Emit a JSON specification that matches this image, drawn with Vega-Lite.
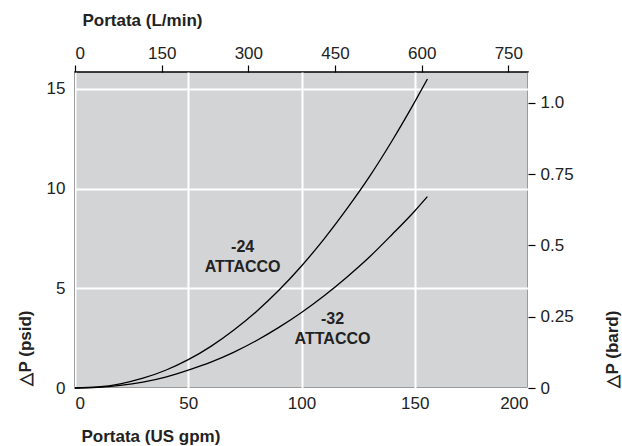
{
  "$schema": "https://vega.github.io/schema/vega-lite/v6.json",
  "width": 453,
  "height": 316,
  "autosize": {"type": "none"},
  "padding": {"left": 75, "top": 72, "right": 94, "bottom": 58},
  "background": "white",
  "config": {
    "view": {"fill": "#d3d4d6", "stroke": "black", "strokeWidth": 1.5},
    "axis": {
      "labelFont": "Liberation Sans",
      "labelFontSize": 17,
      "labelColor": "#222",
      "titleFont": "Liberation Sans",
      "titleFontSize": 17,
      "titleFontWeight": "bold",
      "titleColor": "#222",
      "domain": false
    }
  },
  "layer": [
    {
      "layer": [
        {
          "data": {
            "values": [
              {"gpm": 0, "psi": 0, "s": "-24"},
              {"gpm": 10, "psi": 0.05, "s": "-24"},
              {"gpm": 20, "psi": 0.21, "s": "-24"},
              {"gpm": 30, "psi": 0.49, "s": "-24"},
              {"gpm": 40, "psi": 0.89, "s": "-24"},
              {"gpm": 50, "psi": 1.42, "s": "-24"},
              {"gpm": 60, "psi": 2.09, "s": "-24"},
              {"gpm": 70, "psi": 2.9, "s": "-24"},
              {"gpm": 80, "psi": 3.83, "s": "-24"},
              {"gpm": 90, "psi": 4.9, "s": "-24"},
              {"gpm": 100, "psi": 6.12, "s": "-24"},
              {"gpm": 110, "psi": 7.48, "s": "-24"},
              {"gpm": 120, "psi": 8.98, "s": "-24"},
              {"gpm": 130, "psi": 10.6, "s": "-24"},
              {"gpm": 140, "psi": 12.4, "s": "-24"},
              {"gpm": 150, "psi": 14.35, "s": "-24"},
              {"gpm": 155.6, "psi": 15.5, "s": "-24"},
              {"gpm": 0, "psi": 0, "s": "-32"},
              {"gpm": 10, "psi": 0.03, "s": "-32"},
              {"gpm": 20, "psi": 0.13, "s": "-32"},
              {"gpm": 30, "psi": 0.3, "s": "-32"},
              {"gpm": 40, "psi": 0.55, "s": "-32"},
              {"gpm": 50, "psi": 0.9, "s": "-32"},
              {"gpm": 60, "psi": 1.3, "s": "-32"},
              {"gpm": 70, "psi": 1.79, "s": "-32"},
              {"gpm": 80, "psi": 2.37, "s": "-32"},
              {"gpm": 90, "psi": 3.04, "s": "-32"},
              {"gpm": 100, "psi": 3.79, "s": "-32"},
              {"gpm": 110, "psi": 4.63, "s": "-32"},
              {"gpm": 120, "psi": 5.56, "s": "-32"},
              {"gpm": 130, "psi": 6.57, "s": "-32"},
              {"gpm": 140, "psi": 7.7, "s": "-32"},
              {"gpm": 150, "psi": 8.88, "s": "-32"},
              {"gpm": 155.6, "psi": 9.6, "s": "-32"}
            ]
          },
          "mark": {"type": "line", "color": "black", "strokeWidth": 1.3, "interpolate": "monotone"},
          "encoding": {
            "x": {
              "field": "gpm", "type": "quantitative",
              "scale": {"domain": [0, 200], "nice": false, "zero": false},
              "axis": {
                "orient": "bottom", "title": "Portata (US gpm)",
                "values": [0, 50, 100, 150, 200],
                "ticks": false, "labelPadding": 7,
                "grid": true, "gridColor": "white", "gridWidth": 2,
                "titleX": 6, "titleY": 48, "titleAlign": "left", "titleBaseline": "middle", "titleAngle": 0
              }
            },
            "y": {
              "field": "psi", "type": "quantitative",
              "scale": {"domain": [0, 15.85], "nice": false, "zero": false},
              "axis": {
                "orient": "left", "title": "△P (psid)",
                "values": [0, 5, 10, 15],
                "ticks": false, "labelPadding": 10,
                "grid": true, "gridColor": "white", "gridWidth": 2,
                "titleX": -50, "titleY": 313, "titleAngle": 270, "titleAlign": "left", "titleBaseline": "middle"
              }
            },
            "detail": {"field": "s"}
          }
        },
        {
          "data": {
            "values": [
              {"gpm": 74, "psi": 7.05, "t": "-24"},
              {"gpm": 74, "psi": 6.05, "t": "ATTACCO"},
              {"gpm": 113.7, "psi": 3.45, "t": "-32"},
              {"gpm": 113.7, "psi": 2.45, "t": "ATTACCO"}
            ]
          },
          "mark": {"type": "text", "font": "Liberation Sans", "fontWeight": "bold", "fontSize": 16, "color": "#222", "align": "center", "baseline": "middle"},
          "encoding": {
            "x": {"field": "gpm", "type": "quantitative"},
            "y": {"field": "psi", "type": "quantitative"},
            "text": {"field": "t"}
          }
        }
      ]
    },
    {
      "data": {"values": [{"lpm": 0, "bar": 0}, {"lpm": 784, "bar": 1.108}]},
      "mark": {"type": "point", "opacity": 0},
      "encoding": {
        "x": {
          "field": "lpm", "type": "quantitative",
          "scale": {"domain": [0, 784], "nice": false, "zero": false},
          "axis": {
            "orient": "top", "title": "Portata (L/min)",
            "values": [0, 150, 300, 450, 600, 750],
            "grid": false, "ticks": true, "tickSize": 7, "tickColor": "black", "tickWidth": 1.2,
            "labelPadding": 3,
            "titleX": 7, "titleY": -52, "titleAlign": "left", "titleBaseline": "middle", "titleAngle": 0
          }
        },
        "y": {
          "field": "bar", "type": "quantitative",
          "scale": {"domain": [0, 1.108], "nice": false, "zero": false},
          "axis": {
            "orient": "right", "title": "△P (bard)",
            "values": [0, 0.25, 0.5, 0.75, 1.0],
            "labelExpr": "datum.value == 1 ? '1.0' : toString(datum.value)",
            "grid": false, "ticks": true, "tickSize": 7, "tickColor": "black", "tickWidth": 1.2,
            "labelPadding": 5,
            "titleX": 84, "titleY": 315, "titleAngle": 270, "titleAlign": "left", "titleBaseline": "middle"
          }
        }
      }
    }
  ],
  "resolve": {"scale": {"x": "independent", "y": "independent"}}
}
